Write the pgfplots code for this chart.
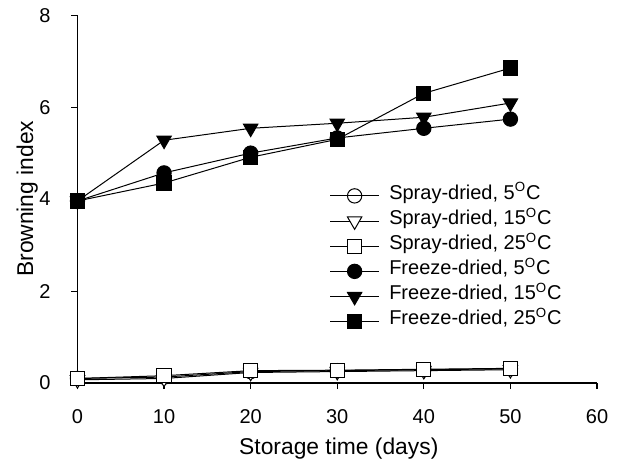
\documentclass[border=0pt]{standalone}
\usepackage{pgfplots}
\pgfplotsset{compat=1.18}
\usepackage{fontspec}
\setmainfont{Liberation Sans}
\begin{document}
\begin{tikzpicture}
\useasboundingbox (-46.5pt,-47.4pt) rectangle (327.4pt,229.9pt);
\begin{axis}[
  at={(0,0)}, anchor=south west,
  scale only axis,
  clip=false,
  width=311.8pt, height=220.8pt,
  xmin=0, xmax=60, ymin=0, ymax=8,
  axis lines=left,
  axis line style={-, line width=0.8pt},
  xtick={0,10,...,60}, ytick={0,2,...,8},
  tick align=outside,
  major tick length=3.6pt,
  tick style={black, line width=0.7pt},
  /pgf/number format/assume math mode=true,
  tick label style={font=\fontsize{12}{14}\selectfont},
  xticklabel style={yshift=-9pt},
  yticklabel style={xshift=-9pt},
  label style={font=\fontsize{13.7}{16}\selectfont},
  xlabel={Storage time (days)},
  xlabel style={at={(axis description cs:0.503,0)}, anchor=base, yshift=-43pt},
  legend style={draw=none, fill=none, at={(0.486,0.543)}, anchor=north west,
    inner sep=0pt, outer sep=0pt,
    font=\fontsize{12}{14}\selectfont, row sep=0pt,
    nodes={inner sep=0pt, text height=9.5pt, text depth=5.6pt},
    /tikz/every odd column/.append style={column sep=6pt}},
  legend cell align=left,
  legend image code/.code={
    \draw[#1, mark=none] (0pt,0pt) -- (29pt,0pt);
    \draw[#1, only marks] plot coordinates {(14.5pt,0pt)};
  },
  every axis plot/.append style={black, line width=0.6pt, mark size=4.3pt,
    mark options={solid, line width=0.6pt}},
]
\addplot[mark=o, mark options={fill=white}] coordinates {
(0,0.10) (10,0.13) (20,0.25) (30,0.27) (40,0.29) (50,0.31)};
\addlegendentry{Spray-dried, 5\textsuperscript{O}C}
\addplot[mark=triangle*, mark size=5pt, mark options={fill=white, rotate=180}] coordinates {
(0,0.07) (10,0.10) (20,0.23) (30,0.25) (40,0.27) (50,0.29)};
\addlegendentry{Spray-dried, 15\textsuperscript{O}C}
\addplot[mark=square*, mark options={fill=white}] coordinates {
(0,0.10) (10,0.16) (20,0.27) (30,0.28) (40,0.30) (50,0.32)};
\addlegendentry{Spray-dried, 25\textsuperscript{O}C}
\addplot[mark=*, mark options={fill=black}] coordinates {
(0,3.96) (10,4.57) (20,5.00) (30,5.33) (40,5.54) (50,5.74)};
\addlegendentry{Freeze-dried, 5\textsuperscript{O}C}
\addplot[mark=triangle*, mark size=5pt, mark options={fill=black, rotate=180}] coordinates {
(0,3.96) (10,5.28) (20,5.54) (30,5.65) (40,5.78) (50,6.09)};
\addlegendentry{Freeze-dried, 15\textsuperscript{O}C}
\addplot[mark=square*, mark options={fill=black}] coordinates {
(0,3.96) (10,4.35) (20,4.91) (30,5.30) (40,6.30) (50,6.85)};
\addlegendentry{Freeze-dried, 25\textsuperscript{O}C}
\node[rotate=90, anchor=base, inner sep=0pt, font=\fontsize{13.7}{16}\selectfont]
  at (axis description cs:-0.0856,0.501) {Browning index};
\end{axis}
\end{tikzpicture}
\end{document}
